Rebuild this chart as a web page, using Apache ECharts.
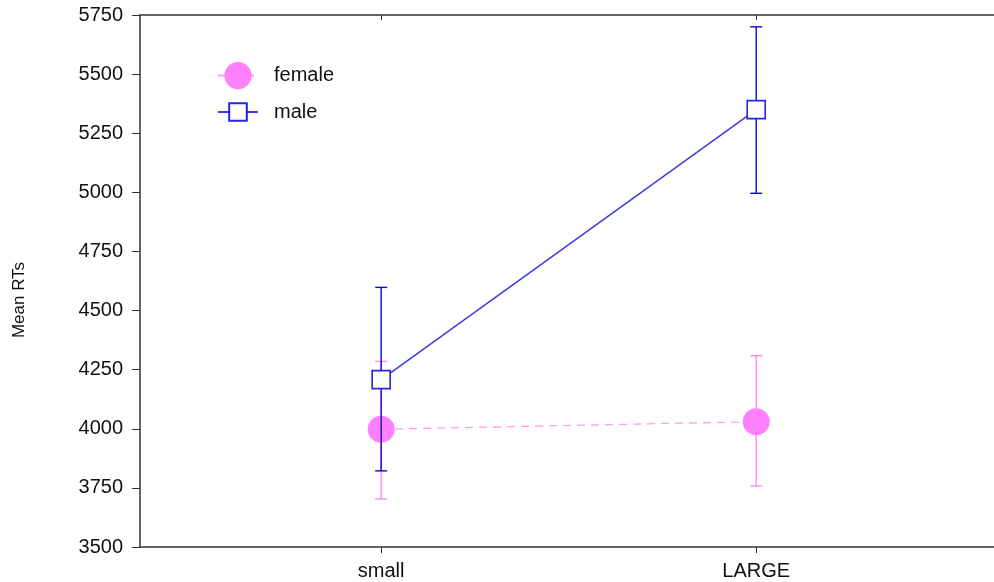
<!DOCTYPE html>
<html>
<head>
<meta charset="utf-8">
<script src="https://cdn.jsdelivr.net/npm/echarts@6/dist/echarts.min.js"></script>
<style>
html, body { margin: 0; padding: 0; background: #fff; }
#chart { width: 994px; height: 582px; }
</style>
</head>
<body>
<div id="chart"></div>
<script>
// Conditions on the x axis (placed at positions 1 and 2)
const categories = ['small', 'LARGE'];
const categoryPos = [1, 2];

// Mean RTs with error-bar limits
const femaleMean = [3998, 4030];
const femaleLow  = [3703, 3758];
const femaleHigh = [4285, 4309];

const maleMean = [4208, 5350];
const maleLow  = [3822, 4996];
const maleHigh = [4598, 5700];

const yTicks = [3500, 3750, 4000, 4250, 4500, 4750, 5000, 5250, 5500, 5750];

const PINK = '#ff80ff';
const PINK_BAR = '#ff88f4';
const PINK_LINE = '#ff9cf5';
const BLUE = '#2424dc';
const BLUE_BAR = '#0c0cd0';
const AXIS = '#333';
const FONT = '"Liberation Sans", Arial, sans-serif';

function errorSeries(name, low, high, color, z) {
  return {
    type: 'custom',
    name: name,
    silent: true,
    z: z,
    data: categoryPos.map((x, i) => [x, low[i], high[i]]),
    renderItem: function (params, api) {
      const top = api.coord([api.value(0), api.value(2)]);
      const bot = api.coord([api.value(0), api.value(1)]);
      const hw = 6;
      const st = { stroke: color, lineWidth: 1.4 };
      return {
        type: 'group',
        children: [
          { type: 'line', shape: { x1: top[0], y1: top[1], x2: bot[0], y2: bot[1] }, style: st },
          { type: 'line', shape: { x1: top[0] - hw, y1: top[1], x2: top[0] + hw, y2: top[1] }, style: st },
          { type: 'line', shape: { x1: bot[0] - hw, y1: bot[1], x2: bot[0] + hw, y2: bot[1] }, style: st }
        ]
      };
    }
  };
}

const legendText = { fontFamily: FONT, fontSize: 20, color: '#111', padding: [0, 0, 0, 11] };

const X_MIN = 0.357, X_MAX = 2.634;

const chart = echarts.init(document.getElementById('chart'), null, { renderer: 'canvas' });

chart.setOption({
  animation: false,
  backgroundColor: '#ffffff',
  grid: { left: 140, right: 0, top: 15, bottom: 35, show: false },
  legend: [{
    orient: 'vertical',
    left: 212, top: 57,
    itemWidth: 40, itemHeight: 34,
    data: ['female'],
    textStyle: legendText
  }, {
    orient: 'vertical',
    left: 212, top: 97,
    itemWidth: 40, itemHeight: 22,
    data: ['male'],
    textStyle: legendText
  }],
  graphic: [{
    type: 'text',
    x: 19, y: 300,
    rotation: Math.PI / 2,
    style: {
      text: 'Mean RTs',
      fontFamily: FONT, fontSize: 17, fill: '#111',
      align: 'center', verticalAlign: 'middle'
    }
  }],
  xAxis: [{
    type: 'value',
    min: X_MIN, max: X_MAX,
    position: 'bottom',
    splitLine: { show: false },
    axisLine: { show: true, lineStyle: { color: AXIS, width: 1.5 } },
    axisTick: { show: true, inside: false, length: 6, customValues: categoryPos, lineStyle: { color: AXIS } },
    axisLabel: {
      customValues: categoryPos,
      formatter: v => categories[categoryPos.indexOf(v)] || '',
      margin: 14, fontFamily: FONT, fontSize: 20, color: '#111'
    }
  }, {
    type: 'value',
    min: X_MIN, max: X_MAX,
    position: 'top',
    splitLine: { show: false },
    axisLine: { show: true, lineStyle: { color: AXIS, width: 1.5 } },
    axisTick: { show: true, inside: true, length: 5, customValues: categoryPos, lineStyle: { color: AXIS } },
    axisLabel: { show: false }
  }],
  yAxis: {
    type: 'value',
    min: 3500, max: 5750, interval: 250,
    splitLine: { show: false },
    axisLine: { show: true, lineStyle: { color: AXIS, width: 1.5 } },
    axisTick: { show: true, length: 8, lineStyle: { color: AXIS } },
    axisLabel: {
      margin: 17, fontFamily: FONT, fontSize: 20, color: '#111',
      formatter: v => (yTicks.indexOf(v) >= 0 ? String(v) : '')
    }
  },
  series: [
    errorSeries('femaleErr', femaleLow, femaleHigh, PINK_BAR, 1),
    {
      name: 'female',
      type: 'line',
      z: 2,
      data: categoryPos.map((x, i) => [x, femaleMean[i]]),
      symbol: 'circle',
      symbolSize: 27,
      lineStyle: { color: PINK_LINE, width: 1.3, type: [8, 6] },
      itemStyle: { color: PINK, borderWidth: 0 }
    },
    errorSeries('maleErr', maleLow, maleHigh, BLUE_BAR, 3),
    {
      name: 'male',
      type: 'line',
      z: 4,
      data: categoryPos.map((x, i) => [x, maleMean[i]]),
      symbol: 'rect',
      symbolSize: 18,
      lineStyle: { color: '#3a3ae0', width: 1.5 },
      itemStyle: { color: '#ffffff', borderColor: BLUE, borderWidth: 1.6 }
    }
  ]
});
</script>
</body>
</html>
